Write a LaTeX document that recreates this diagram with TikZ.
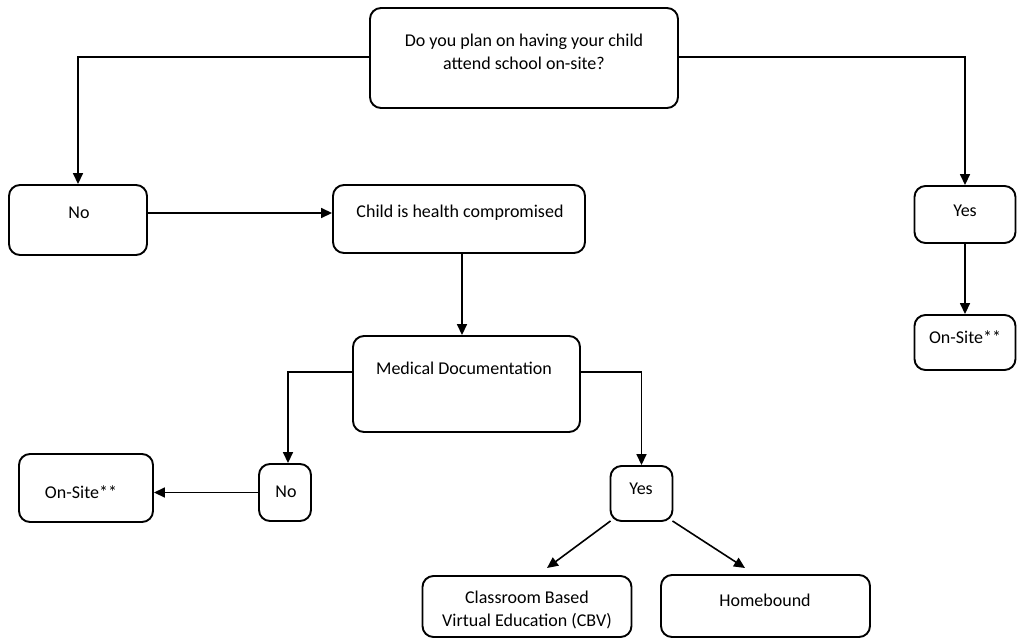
\documentclass[tikz,border=0pt]{standalone}
\usepackage{fontspec}
\setmainfont{Carlito}
\usetikzlibrary{arrows.meta}
\begin{document}
\begin{tikzpicture}[x=1pt,y=-1pt,
  box/.style={draw=black,line width=1.9pt,rounded corners=11pt,inner sep=0pt},
  txt/.style={font=\fontsize{18}{23.5}\selectfont,align=center,inner sep=0pt},
  conn/.style={line width=1.6pt,-{Triangle[length=11pt,width=10pt]}},
  plain/.style={line width=1.6pt}]
\useasboundingbox (0,0) rectangle (1017,640);
\fill[white] (0,0) rectangle (1017,640);
% boxes
\newcommand{\mybox}[5]{\node[box,minimum width=#4pt,minimum height=#5pt] (#1) at (#2,#3) {};}
\mybox{top}{524}{58}{308}{100}
\mybox{noL}{78}{220}{138}{70}
\mybox{child}{459}{219}{252}{68}
\mybox{yesR}{965}{214.5}{101}{57}
\mybox{onR}{965}{342.5}{101}{55}
\mybox{med}{466.5}{384}{227}{96}
\mybox{noM}{285}{492.5}{52}{57}
\mybox{onL}{86}{488}{134}{68}
\mybox{yesM}{641.5}{493.5}{62}{55}
\mybox{cbv}{527}{606.5}{209}{61}
\mybox{home}{765.5}{606}{209}{62}
% texts
\node[txt] (ttop) at (524,52) {Do you plan on having your child\\attend school on-site?};
\node[txt] (tnoL) at (79,213) {No};
\node[txt] (tchild) at (460,213) {Child is health compromised};
\node[txt] (tyesR) at (965,211) {Yes};
\node[txt] (tonR) at (965,337) {On-Site**};
\node[txt] (tmed) at (464,368) {Medical Documentation};
\node[txt] (tnoM) at (286,492) {No};
\node[txt] (tonL) at (81,492) {On-Site**};
\node[txt] (tyesM) at (641,489) {Yes};
\node[txt] (tcbv) at (527,610) {Classroom Based\\Virtual Education (CBV)};
\node[txt] (thome) at (765,600) {Homebound};
% connectors
\draw[conn] (top.west |- 0,57) -| (noL.north);
\draw[conn] (top.east |- 0,57) -| (yesR.north);
\draw[conn] (noL.east |- 0,213) -- (child.west |- 0,213);
\draw[conn] (child.south -| 462,0) -- (med.north -| 462,0);
\draw[conn] (med.west |- 0,372) -| (noM.north -| 288,0);
\draw[conn] (med.east |- 0,372) -| (yesM.north);
\draw[conn] (noM.west) -- (onL.east |- noM.west);
\draw[conn] (yesR.south) -- (onR.north);
\coordinate (c1) at (547,568);
\coordinate (c2) at (745,568);
\draw[conn] (yesM.south west) ++(1,-1) -- (c1);
\draw[conn] (yesM.south east) ++(-1,-1) -- (c2);
\end{tikzpicture}
\end{document}
